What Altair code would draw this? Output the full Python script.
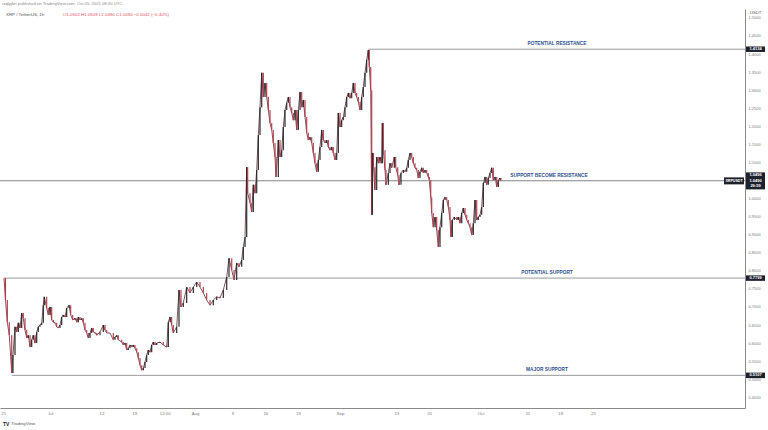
import altair as alt
import pandas as pd

FONT = "Liberation Sans"

# ---------------- data ----------------
# time: days since 2021-06-21 00:00 UTC ; price: XRP / TetherUS (USDT)
t_days = [
    0.17, 0.49, 0.88, 1.30, 1.82, 2.09, 2.52, 2.88, 3.23, 3.59,
    3.95, 4.29, 4.66, 5.02, 5.36, 5.73, 6.09, 6.43, 6.79, 7.16,
    7.50, 7.86, 8.23, 8.57, 8.78, 9.29, 9.64, 10.00, 10.36, 10.71,
    11.07, 11.43, 11.77, 12.14, 12.50, 12.84, 13.21, 13.57, 14.06, 14.42,
    14.85, 15.34, 15.71, 16.05, 16.41, 16.77, 17.12, 17.48, 17.84, 18.18,
    18.55, 18.91, 19.25, 19.62, 19.98, 20.68, 21.39, 21.75, 22.12, 22.82,
    23.53, 23.89, 24.25, 24.59, 25.32, 25.66, 26.03, 26.39, 26.73, 27.09,
    27.46, 27.80, 28.16, 28.53, 28.87, 29.23, 29.59, 29.94, 30.30, 30.66,
    31.00, 31.37, 31.73, 32.07, 32.44, 32.80, 33.50, 34.21, 34.94, 35.28,
    35.64, 36.00, 36.35, 37.07, 37.56, 37.99, 38.48, 39.21, 39.91, 40.62,
    41.35, 42.05, 42.76, 43.48, 44.19, 44.89, 45.62, 46.32, 47.03, 47.76,
    48.25, 48.83, 49.32, 49.89, 50.38, 50.96, 51.30, 51.67, 52.03, 52.24,
    52.74, 53.10, 53.44, 53.80, 54.17, 54.51, 54.87, 55.24, 55.58, 55.94,
    56.30, 56.65, 57.01, 57.37, 57.71, 58.08, 58.29, 58.78, 59.15, 59.51,
    59.85, 60.21, 60.58, 60.92, 61.28, 61.65, 61.99, 62.35, 62.71, 63.06,
    63.42, 63.78, 64.12, 64.49, 64.85, 65.19, 65.56, 65.92, 66.26, 66.62,
    66.99, 67.33, 67.69, 68.06, 68.40, 68.76, 69.12, 69.47, 69.83, 70.19,
    70.53, 70.90, 71.26, 71.60, 71.97, 72.33, 72.67, 73.03, 73.40, 73.74,
    74.10, 74.47, 74.81, 75.17, 75.53, 75.88, 76.24, 76.60, 76.94, 77.31,
    77.67, 78.01, 78.23, 78.53, 78.74, 78.87, 79.12, 79.41, 79.81, 80.15,
    80.51, 80.88, 81.01, 81.22, 81.58, 81.79, 82.29, 82.65, 83.01, 83.57,
    83.87, 84.29, 84.57, 85.00, 85.49, 85.85, 86.22, 86.56, 86.92, 87.29,
    87.63, 87.99, 88.35, 88.70, 89.06, 89.42, 89.77, 90.13, 90.49, 90.83,
    91.05, 91.35, 91.56, 91.90, 92.27, 92.63, 92.97, 93.33, 93.70, 94.04,
    94.40, 94.77, 95.11, 95.47, 95.68, 95.96, 96.39, 96.90, 97.24, 97.61,
    97.97, 98.31, 98.68, 99.04, 99.38, 99.74, 100.11, 100.45, 100.81, 101.18,
    101.52, 101.88, 102.24, 102.59, 102.95, 103.31, 103.65, 104.02, 104.38, 104.72,
    105.09, 105.45, 105.79, 106.15, 106.35,
]
prices = [
    0.780, 0.719, 0.658, 0.622, 0.517, 0.567, 0.645, 0.631, 0.656, 0.642,
    0.683, 0.669, 0.636, 0.614, 0.622, 0.589, 0.609, 0.622, 0.600, 0.631,
    0.645, 0.650, 0.656, 0.705, 0.728, 0.697, 0.678, 0.700, 0.664, 0.658,
    0.656, 0.645, 0.642, 0.650, 0.672, 0.678, 0.672, 0.697, 0.705, 0.678,
    0.664, 0.669, 0.658, 0.672, 0.664, 0.669, 0.656, 0.636, 0.628, 0.614,
    0.628, 0.642, 0.631, 0.628, 0.622, 0.631, 0.650, 0.636, 0.628, 0.628,
    0.609, 0.617, 0.622, 0.609, 0.603, 0.595, 0.600, 0.581, 0.586, 0.595,
    0.589, 0.595, 0.586, 0.575, 0.559, 0.539, 0.525, 0.531, 0.548, 0.567,
    0.581, 0.575, 0.595, 0.603, 0.595, 0.600, 0.603, 0.595, 0.589, 0.658,
    0.672, 0.650, 0.628, 0.645, 0.747, 0.700, 0.711, 0.755, 0.739, 0.755,
    0.769, 0.755, 0.739, 0.719, 0.705, 0.719, 0.728, 0.725, 0.747, 0.783,
    0.835, 0.802, 0.775, 0.822, 0.811, 0.830, 0.866, 0.894, 1.087, 1.015,
    0.988, 0.963, 1.038, 1.015, 1.079, 1.176, 1.253, 1.348, 1.281, 1.320,
    1.281, 1.245, 1.209, 1.190, 1.154, 1.115, 1.060, 1.162, 1.115, 1.134,
    1.198, 1.245, 1.265, 1.281, 1.253, 1.237, 1.217, 1.245, 1.190, 1.245,
    1.295, 1.253, 1.273, 1.226, 1.182, 1.162, 1.170, 1.154, 1.126, 1.098,
    1.074, 1.107, 1.143, 1.190, 1.162, 1.154, 1.162, 1.143, 1.134, 1.143,
    1.126, 1.107, 1.126, 1.237, 1.198, 1.217, 1.226, 1.253, 1.281, 1.292,
    1.278, 1.292, 1.320, 1.292, 1.281, 1.267, 1.245, 1.281, 1.309, 1.348,
    1.384, 1.411, 1.364, 1.300, 0.955, 1.126, 1.087, 1.024, 1.115, 1.098,
    1.115, 1.098, 1.209, 1.134, 1.079, 1.038, 1.071, 1.098, 1.085, 1.115,
    1.087, 1.065, 1.038, 1.071, 1.079, 1.074, 1.085, 1.107, 1.126, 1.115,
    1.098, 1.085, 1.079, 1.057, 1.074, 1.085, 1.071, 1.079, 1.071, 1.060,
    1.051, 1.004, 0.960, 0.921, 0.949, 0.913, 0.866, 0.921, 0.960, 0.996,
    1.004, 0.996, 0.977, 0.941, 0.894, 0.941, 0.949, 0.941, 0.949, 0.932,
    0.960, 0.974, 0.955, 0.941, 0.932, 0.921, 0.899, 0.932, 0.996, 0.941,
    0.949, 0.955, 0.977, 1.043, 1.060, 1.038, 1.057, 1.071, 1.085, 1.051,
    1.060, 1.032, 1.051, 1.057, 1.049,
]

level_names = ["POTENTIAL RESISTANCE", "SUPPORT BECOME RESISTANCE",
               "POTENTIAL SUPPORT", "MAJOR SUPPORT"]
level_values = [1.4134, 1.0496, 0.7799, 0.5107]
level_start_t = [78.01, -0.7, 0.17, 1.82]
last_price = 1.0490

x_tick_t = [0, 10, 21, 28, 34.5, 41, 49, 56, 63, 72, 84, 91, 102, 112, 119, 126]
x_tick_labels = ["21", "Jul", "12", "19", "12:00", "Aug", "9", "16", "23",
                 "Sep", "13", "20", "Oct", "11", "18", "25"]
y_ticks = [0.45, 0.50, 0.55, 0.60, 0.65, 0.70, 0.75, 0.80, 0.85, 0.90, 0.95,
           1.00, 1.05, 1.10, 1.15, 1.20, 1.25, 1.30, 1.35, 1.40, 1.45, 1.50]

# ---------------- tables ----------------
line_df = pd.DataFrame({"t": t_days, "p": prices})
rows = []
for i in range(1, len(prices)):
    o, c = prices[i - 1], prices[i]
    rows.append({"t": t_days[i], "open": o, "close": c,
                 "dir": "up" if c >= o else "down"})
candle_df = pd.DataFrame(rows)
level_df = pd.DataFrame({"name": level_names, "value": level_values,
                         "start": level_start_t})

# ---------------- layout ----------------
W, H = 745, 399
xs = alt.Scale(domain=[-0.684, 158.5], nice=False, zero=False)
ys = alt.Scale(domain=[0.4204, 1.5247], nice=False, zero=False)

label_expr = "[" + ",".join("'%s'" % s for s in x_tick_labels) + "][indexof([" + \
    ",".join(str(v) for v in x_tick_t) + "], datum.value)]"

XAX = alt.Axis(values=x_tick_t, labelExpr=label_expr, title=None, grid=False,
               ticks=False, labelFontSize=4.3, labelColor="#7a7a7a",
               labelFont=FONT, labelPadding=3, labelOverlap=False,
               labelFlush=False, domainColor="#8a8a8a", domainWidth=1)
YAX = alt.Axis(orient="right", values=y_ticks, format=".4f", title=None,
               grid=False, ticks=False, labelFontSize=4, labelColor="#7a7a7a",
               labelFont=FONT, labelPadding=3, labelOverlap=False,
               labelFlush=False, domainColor="#8a8a8a", domainWidth=1)


def X(f):
    return alt.X(f, scale=xs, axis=XAX, title=None)


def Y(f):
    return alt.Y(f, scale=ys, axis=YAX, title=None)


one = pd.DataFrame({"a": [0]})


def txt(s, x, y, size, color, align="left", weight="normal"):
    return alt.Chart(one).mark_text(
        text=s, align=align, baseline="middle", fontSize=size, color=color,
        fontWeight=weight, font=FONT
    ).encode(x=alt.value(x), y=alt.value(y))


line = alt.Chart(line_df).mark_line(strokeWidth=0.8, color="#5a2a32").encode(
    x=X("t:Q"), y=Y("p:Q"))

candles = alt.Chart(candle_df).mark_rule(strokeWidth=1.15).encode(
    x=X("t:Q"),
    y=Y("open:Q"),
    y2="close:Q",
    color=alt.Color("dir:N", scale=alt.Scale(domain=["up", "down"],
                                             range=["#222222", "#b8394a"]),
                    legend=None),
)

cur_line = alt.Chart(pd.DataFrame({"v": [last_price]})).mark_rule(
    color="#c4c4c4", strokeWidth=0.8).encode(
    y=Y("v:Q"), x=alt.value(0), x2=alt.value(W))

levels = alt.Chart(level_df).mark_rule(color="#8e8e8e", strokeWidth=0.9).encode(
    x=X("start:Q"), x2=alt.value(W), y=Y("value:Q"))

label_x = [557, 549, 547, 547]
level_texts = []
for name, val, lx in zip(level_names, level_values, label_x):
    level_texts.append(
        alt.Chart(pd.DataFrame({"v": [val], "n": [name]})).mark_text(
            align="center", baseline="middle", fontSize=4.8, fontWeight="bold",
            color="#2f4f8f", font=FONT, dy=-5
        ).encode(x=alt.value(lx), y=Y("v:Q"), text="n:N"))

# price tags on the axis
tag_df = pd.DataFrame({"v": [1.4134, 0.7799, 0.5107],
                       "s": ["1.4134", "0.7799", "0.5107"]})
tags = alt.Chart(tag_df).mark_tick(orient="horizontal", thickness=5.5, size=19,
                                   color="#1e222d", opacity=1).encode(
    x=alt.value(755.5), y=Y("v:Q"))
tag_txt = alt.Chart(tag_df).mark_text(fontSize=4, color="white", font=FONT,
                                      fontWeight="bold", align="center",
                                      baseline="middle").encode(
    x=alt.value(755.5), y=Y("v:Q"), text="s:N")

cur_df = pd.DataFrame({"v": [last_price]})
cur_box = alt.Chart(cur_df).mark_tick(orient="horizontal", thickness=17, size=19,
                                      color="#1e222d", opacity=1).encode(
    x=alt.value(755.5), y=Y("v:Q"))
sym_box = alt.Chart(cur_df).mark_tick(orient="horizontal", thickness=7, size=20,
                                      color="#1e222d", opacity=1).encode(
    x=alt.value(734), y=Y("v:Q"))
cur_texts = []
for s, dy in [("1.0496", -5.5), ("1.0490", 0), ("29:59", 5.5)]:
    cur_texts.append(alt.Chart(cur_df).mark_text(
        text=s, fontSize=4, color="white", font=FONT, fontWeight="bold",
        align="center", baseline="middle", dy=dy).encode(
        x=alt.value(755.5), y=Y("v:Q")))
sym_txt = alt.Chart(cur_df).mark_text(
    text="XRPUSDT", fontSize=3.6, color="white", font=FONT, fontWeight="bold",
    align="center", baseline="middle").encode(
    x=alt.value(734), y=Y("v:Q"))

headers = [
    txt("rzqlpjbn published on TradingView.com, Oct 05, 2021 08:30 UTC",
        2, -5, 4.2, "#8a8a8a"),
    txt("XRP / TetherUS, 1h", 6, 6, 4.4, "#555555"),
    txt("O1.0502  H1.0509  L1.0490  C1.0490  \u22120.0042 (\u22120.40%)",
        63, 6, 4.4, "#e0525e"),
    txt("USDT", 750, 4, 4.2, "#555555"),
    txt("TV", 3, 415, 5, "#131722", weight="bold"),
    txt("TradingView", 11, 415, 4.4, "#555555"),
]

chart = alt.layer(
    line, cur_line, levels, candles, *level_texts, tags, tag_txt,
    cur_box, sym_box, *cur_texts, sym_txt, *headers
).properties(
    width=W, height=H,
    padding={"left": 0, "top": 9, "right": 23, "bottom": 22},
    autosize=alt.AutoSizeParams(type="none"),
    background="white",
).configure_view(stroke=None)

chart.save("out.html", embed_options={"renderer": "svg", "actions": False})
